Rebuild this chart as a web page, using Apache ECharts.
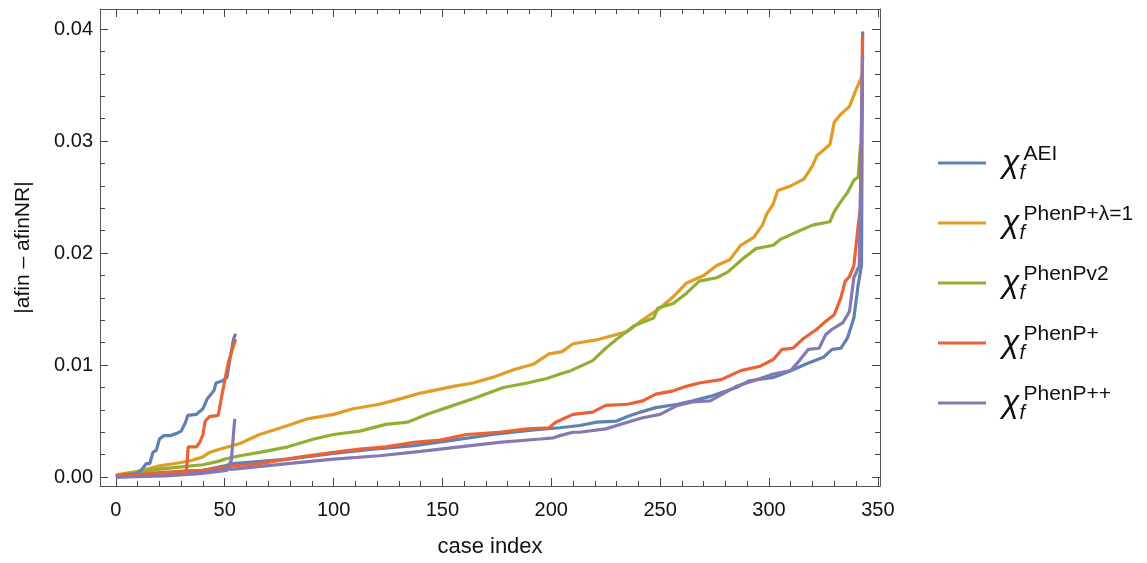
<!DOCTYPE html>
<html>
<head>
<meta charset="utf-8">
<script src="https://cdn.jsdelivr.net/npm/echarts@6/dist/echarts.min.js"></script>
<style>
html, body { margin: 0; padding: 0; background: #fff; }
#chart { width: 1147px; height: 563px; }
</style>
</head>
<body>
<div id="chart"></div>
<script>
// legend names (superscripts of chi_f)
var names = ['AEI', 'PhenP+\u03bb=1', 'PhenPv2', 'PhenP+', 'PhenP++'];
var colors = ['#5E81B5', '#E19C24', '#8FB032', '#EB6235', '#8778B3'];

// tick labels
var xTicks = [0, 50, 100, 150, 200, 250, 300, 350];
var xMinor = [10, 20, 30, 40, 60, 70, 80, 90, 110, 120, 130, 140, 160, 170, 180, 190, 210, 220, 230, 240, 260, 270, 280, 290, 310, 320, 330, 340];
var yTicks = [0, 0.01, 0.02, 0.03, 0.04];
var yMinor = [0.002, 0.004, 0.006, 0.008, 0.012, 0.014, 0.016, 0.018, 0.022, 0.024, 0.026, 0.028, 0.032, 0.034, 0.036, 0.038];

// AEI, all cases
var aeiX = [0, 10, 20, 30, 40, 50, 54, 79, 100, 118, 137, 155, 173, 192, 204, 213, 221, 230, 235, 241, 248, 258, 265, 273, 285, 291, 302, 310, 317, 325, 329, 333, 336, 339, 341, 342.5, 343];
var aeiY = [0.0000, 0.0002, 0.0003, 0.0005, 0.0006, 0.0010, 0.0012, 0.0016, 0.0021, 0.0025, 0.0028, 0.0033, 0.0038, 0.0042, 0.0044, 0.0046, 0.0049, 0.0050, 0.0054, 0.0058, 0.0062, 0.0065, 0.0068, 0.0072, 0.0080, 0.0086, 0.0089, 0.0095, 0.0101, 0.0107, 0.0114, 0.0115, 0.0124, 0.0142, 0.0172, 0.0189, 0.0398];
// AEI, short set
var aeiShortX = [0, 9.5, 12, 14, 15.6, 17, 18.6, 20, 22, 25, 28, 30, 32, 33, 37, 40, 42, 45, 46, 49, 51, 52, 54, 55];
var aeiShortY = [0.0001, 0.0003, 0.0007, 0.0012, 0.0012, 0.0022, 0.0024, 0.0034, 0.0037, 0.0037, 0.0039, 0.0041, 0.0049, 0.0055, 0.0056, 0.0061, 0.0070, 0.0077, 0.0084, 0.0086, 0.0089, 0.0101, 0.0123, 0.0128];

// PhenP+ lambda=1
var lamX = [0, 10, 20, 30, 35, 40, 43, 48, 57, 66, 79, 88, 100, 109, 121, 131, 140, 155, 164, 173, 183, 192, 199, 205, 210, 222, 235, 241, 250, 256, 262, 270, 276, 282, 287, 293, 297, 299, 302, 304, 310, 316, 320, 322, 328, 330, 333, 337, 340, 342.5, 343];
var lamY = [0.0002, 0.0005, 0.0010, 0.0013, 0.0015, 0.0018, 0.0022, 0.0025, 0.0030, 0.0038, 0.0046, 0.0052, 0.0056, 0.0061, 0.0065, 0.0070, 0.0075, 0.0081, 0.0084, 0.0089, 0.0096, 0.0101, 0.0110, 0.0112, 0.0119, 0.0123, 0.0130, 0.0139, 0.0151, 0.0161, 0.0173, 0.0180, 0.0189, 0.0194, 0.0207, 0.0214, 0.0225, 0.0235, 0.0244, 0.0256, 0.0260, 0.0266, 0.0278, 0.0287, 0.0297, 0.0317, 0.0324, 0.0331, 0.0346, 0.0357, 0.0360];

// PhenPv2
var v2X = [0, 10, 20, 30, 40, 47, 50, 57, 66, 79, 91, 100, 112, 124, 134, 143, 152, 164, 178, 189, 198, 204, 209, 219, 225, 230, 238, 247, 249, 256, 262, 268, 276, 281, 288, 294, 302, 305, 314, 320, 328, 330, 333, 336, 339, 341, 342, 343];
var v2Y = [0.0001, 0.0004, 0.0007, 0.0009, 0.0011, 0.0014, 0.0016, 0.0019, 0.0022, 0.0027, 0.0034, 0.0038, 0.0041, 0.0047, 0.0049, 0.0056, 0.0062, 0.0070, 0.0080, 0.0084, 0.0088, 0.0092, 0.0095, 0.0104, 0.0115, 0.0123, 0.0135, 0.0142, 0.0151, 0.0155, 0.0164, 0.0175, 0.0178, 0.0183, 0.0195, 0.0204, 0.0207, 0.0212, 0.0220, 0.0225, 0.0228, 0.0237, 0.0246, 0.0254, 0.0265, 0.0268, 0.0296, 0.0300];

// PhenP+, all cases
var ppX = [0, 10, 20, 30, 40, 50, 54, 66, 85, 100, 112, 124, 137, 149, 161, 176, 189, 199, 202, 210, 219, 225, 235, 242, 248, 256, 262, 268, 278, 287, 296, 302, 306, 311, 316, 322, 326, 330, 333, 335, 337, 339, 341, 342, 343];
var ppY = [0.0001, 0.0002, 0.0004, 0.0005, 0.0006, 0.0009, 0.0010, 0.0012, 0.0018, 0.0022, 0.0025, 0.0027, 0.0031, 0.0033, 0.0038, 0.0040, 0.0043, 0.0044, 0.0049, 0.0056, 0.0058, 0.0064, 0.0065, 0.0068, 0.0074, 0.0077, 0.0081, 0.0084, 0.0087, 0.0095, 0.0099, 0.0105, 0.0114, 0.0115, 0.0124, 0.0132, 0.0139, 0.0145, 0.0160, 0.0175, 0.0179, 0.0189, 0.0225, 0.0240, 0.0395];
// PhenP+, short set
var ppShortX = [0, 10, 20, 30, 32.4, 33.2, 37, 38.5, 40, 41, 43, 47, 48.5, 50, 51.5, 53, 55];
var ppShortY = [0.0001, 0.0002, 0.0003, 0.0004, 0.0005, 0.0027, 0.0027, 0.0031, 0.0038, 0.0050, 0.0054, 0.0055, 0.0071, 0.0086, 0.0101, 0.0111, 0.0123];

// PhenP++, all cases
var pppX = [0, 10, 20, 30, 40, 47, 50, 54, 79, 100, 121, 140, 158, 176, 195, 201, 204, 210, 213, 225, 235, 242, 250, 258, 265, 273, 285, 293, 302, 310, 314, 318, 323, 326, 329, 334, 337, 339, 341.5, 343];
var pppY = [0.0000, 0.0001, 0.0002, 0.0003, 0.0004, 0.0006, 0.0007, 0.0007, 0.0012, 0.0016, 0.0019, 0.0023, 0.0027, 0.0031, 0.0034, 0.0035, 0.0037, 0.0040, 0.0040, 0.0043, 0.0049, 0.0053, 0.0056, 0.0064, 0.0067, 0.0068, 0.0081, 0.0086, 0.0092, 0.0095, 0.0104, 0.0114, 0.0115, 0.0127, 0.0132, 0.0138, 0.0148, 0.0178, 0.0189, 0.0376];
// PhenP++, short set
var pppShortX = [0, 23, 38.5, 51, 53, 54.6];
var pppShortY = [0.0000, 0.0001, 0.0003, 0.0006, 0.0015, 0.0052];

function pairs(xs, ys) {
  return xs.map(function (x, i) { return [x, ys[i]]; });
}

function line(name, color, xs, ys) {
  return {
    name: name,
    type: 'line',
    showSymbol: false,
    symbol: 'none',
    color: color,
    lineStyle: { width: 3.2, color: color },
    data: pairs(xs, ys),
    animation: false
  };
}

var xMin = -7.3, xMax = 351, yMin = -0.0008, yMax = 0.0418;
var font = 'Liberation Sans, Arial, sans-serif';

function axLine(show) {
  return { show: show, onZero: false, lineStyle: { color: '#555', width: 1 } };
}

function xAx(pos, ticks, len, withLabel, lineShow) {
  var a = {
    type: 'value', position: pos, min: xMin, max: xMax,
    axisLine: axLine(lineShow),
    splitLine: { show: false },
    axisTick: { show: true, inside: true, length: len, customValues: ticks, lineStyle: { color: '#444' } },
    axisLabel: { show: false }
  };
  if (withLabel) {
    a.axisLabel = { show: true, customValues: ticks, margin: 14, fontSize: 20, color: '#111', fontFamily: font };
    a.name = 'case index';
    a.nameLocation = 'middle';
    a.nameGap = 50;
    a.nameTextStyle = { fontSize: 22, color: '#111', fontFamily: font };
  }
  return a;
}

function yAx(pos, ticks, len, withLabel, lineShow) {
  var a = {
    type: 'value', position: pos, min: yMin, max: yMax,
    axisLine: axLine(lineShow),
    splitLine: { show: false },
    axisTick: { show: true, inside: true, length: len, customValues: ticks, lineStyle: { color: '#444' } },
    axisLabel: { show: false }
  };
  if (withLabel) {
    a.axisLabel = {
      show: true, customValues: ticks, margin: 7, fontSize: 20, color: '#111', fontFamily: font,
      formatter: function (v) { return v.toFixed(2); }
    };
    a.name = '|afin \u2013 afinNR|';
    a.nameLocation = 'middle';
    a.nameRotate = 90;
    a.nameGap = 66;
    a.nameTextStyle = { fontSize: 21, color: '#111', fontFamily: font };
  }
  return a;
}

var dom = document.getElementById('chart');
var myChart = echarts.init(dom, null, { renderer: 'canvas' });

var option = {
  backgroundColor: '#fff',
  animation: false,
  grid: { left: 100, top: 9, right: 267, bottom: 74 },
  legend: {
    data: names,
    orient: 'vertical',
    left: 938,
    top: 143,
    padding: 0,
    icon: 'rect',
    itemWidth: 48,
    itemHeight: 3,
    itemGap: 20,
    selectedMode: false,
    formatter: function (n) { return '{chi|\u03c7}{sub|f}{sup|' + n + '}'; },
    textStyle: {
      fontFamily: font,
      color: '#111',
      rich: {
        chi: { fontSize: 32, fontStyle: 'italic', lineHeight: 40, verticalAlign: 'middle', padding: [0, 0, 0, 11], fontFamily: font, color: '#111' },
        sub: { fontSize: 20, fontStyle: 'italic', lineHeight: 20, verticalAlign: 'bottom', width: 4, fontFamily: font, color: '#111' },
        sup: { fontSize: 21, lineHeight: 22, verticalAlign: 'top', padding: [1, 0, 0, 0], fontFamily: font, color: '#111' }
      }
    }
  },
  xAxis: [
    xAx('bottom', xTicks, 8, true, true),
    xAx('bottom', xMinor, 5, false, false),
    xAx('top', xTicks, 8, false, true),
    xAx('top', xMinor, 5, false, false)
  ],
  yAxis: [
    yAx('left', yTicks, 8, true, true),
    yAx('left', yMinor, 5, false, false),
    yAx('right', yTicks, 8, false, true),
    yAx('right', yMinor, 5, false, false)
  ],
  series: [
    line(names[0], colors[0], aeiX, aeiY),
    line(names[1], colors[1], lamX, lamY),
    line(names[2], colors[2], v2X, v2Y),
    line(names[3], colors[3], ppX, ppY),
    line(names[4], colors[4], pppX, pppY),
    line(names[0], colors[0], aeiShortX, aeiShortY),
    line(names[3], colors[3], ppShortX, ppShortY),
    line(names[4], colors[4], pppShortX, pppShortY)
  ]
};

if (option && typeof option === 'object') {
  myChart.setOption(option);
}

window.addEventListener('resize', myChart.resize);
</script>
</body>
</html>
